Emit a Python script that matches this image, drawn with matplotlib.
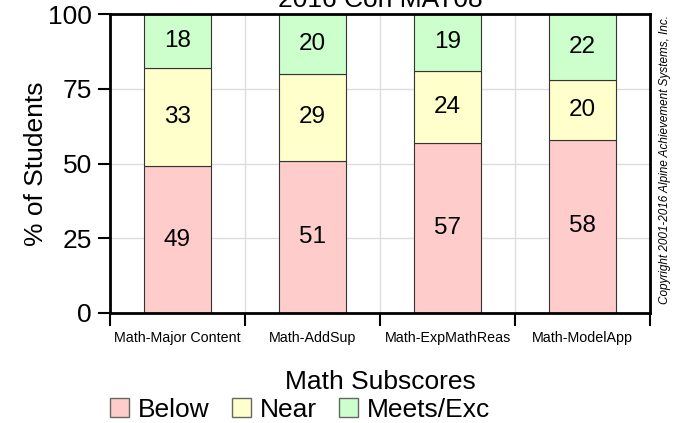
import matplotlib.pyplot as plt
import matplotlib.patches as mpatches
import numpy as np

plt.rcParams['font.family'] = ['Liberation Sans', 'DejaVu Sans']

categories = ['Math-Major Content', 'Math-AddSup', 'Math-ExpMathReas', 'Math-ModelApp']
below = [49, 51, 57, 58]
near = [33, 29, 24, 20]
meets = [18, 20, 19, 22]
series_names = ['Below', 'Near', 'Meets/Exc']
colors = ['#FFCCCC', '#FFFFCC', '#CCFFCC']

fig = plt.figure(figsize=(6.75, 4.23), dpi=100)
ax = fig.add_axes([110 / 675, 1 - 313 / 423, 540 / 675, 299 / 423])

x = np.arange(len(categories))
bottom = np.zeros(len(categories))
for vals, col in zip([below, near, meets], colors):
    ax.bar(x, vals, width=0.5, bottom=bottom, color=col, edgecolor='#333333', linewidth=0.8, zorder=2)
    for xi, b, v in zip(x, bottom, vals):
        ax.text(xi, b + v / 2, str(v), ha='center', va='center', fontsize=17.5, zorder=3)
    bottom += np.array(vals)

ax.set_xlim(-0.5, len(categories) - 0.5)
ax.set_ylim(0, 100)
ax.set_yticks([0, 25, 50, 75, 100])
ax.tick_params(axis='y', labelsize=19, length=9, width=1.5, direction='out', pad=4)
ax.set_xticks(np.arange(len(categories) + 1) - 0.5)
ax.set_xticklabels([])
ax.set_xticks(x, minor=True)
ax.set_xticklabels(categories, minor=True, fontsize=10.3)
ax.tick_params(axis='x', which='major', length=9, width=1.5, direction='out')
ax.tick_params(axis='x', which='minor', length=0, pad=13)
ax.grid(True, which='major', color='#dddddd', linewidth=1, zorder=0)
ax.set_axisbelow(True)
for s in ax.spines.values():
    s.set_linewidth(2)

ax.set_ylabel('% of Students', fontsize=19, labelpad=0)
fig.text(380 / 675, 1 - 382 / 423, 'Math Subscores', ha='center', va='center', fontsize=19)

fig.text(380 / 675, 1 - 7 / 423, '2016 Coh MAT08', ha='center', va='baseline', fontsize=19)
fig.text(665 / 675, 1 - 160 / 423, 'Copyright 2001-2016 Alpine Achievement Systems, Inc.',
         rotation=90, ha='center', va='center', fontsize=8.5, style='italic')

patches = [mpatches.Patch(facecolor=c, edgecolor='#666666', label=n) for c, n in zip(colors, series_names)]
fig.legend(handles=patches, loc='center', bbox_to_anchor=(300 / 675, 1 - 410 / 423), ncol=3,
           frameon=False, fontsize=19, handlelength=0.72, handleheight=0.72,
           handletextpad=0.34, columnspacing=0.85, borderaxespad=0, borderpad=0)

fig.savefig('out.png', dpi=100)
